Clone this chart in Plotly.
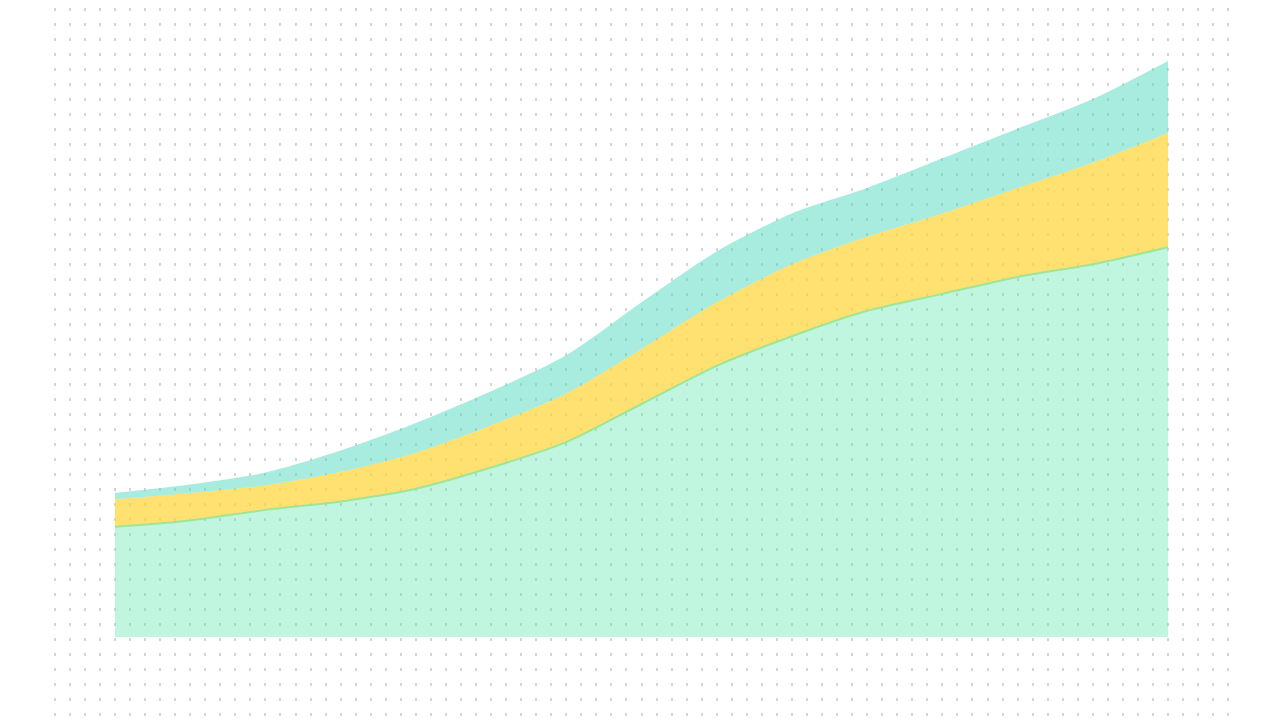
import plotly.graph_objects as go

# x positions (periods) and stacked series values
periods = list(range(15))
base_vals = [26, 27.5, 30, 32, 35, 40, 46, 55, 64, 71, 77, 81, 85, 88, 92]
mid_vals = [6.5, 6.5, 5.8, 7, 8.5, 10, 11.5, 13, 15, 17, 17.5, 19, 21, 24, 27]
top_vals = [1.5, 2, 3, 5, 7, 8, 9, 11, 12, 12, 11.5, 13, 14, 15, 17]

series = [
    ("Base", base_vals, "rgba(98,233,178,0.40)", "rgba(150,228,150,0.9)", 2),
    ("Middle", mid_vals, "rgba(255,214,60,0.72)", "rgba(255,214,60,0)", 0),
    ("Top", top_vals, "rgba(80,218,190,0.50)", "rgba(80,218,190,0)", 0),
]

fig = go.Figure()
for name, vals, color, line_color, line_w in series:
    fig.add_trace(
        go.Scatter(
            x=periods,
            y=vals,
            name=name,
            mode="lines",
            stackgroup="one",
            line=dict(width=line_w, color=line_color, shape="spline", smoothing=0.8),
            fillcolor=color,
        )
    )

fig.update_layout(
    width=1280,
    height=720,
    margin=dict(l=42, r=50, t=0, b=0),
    paper_bgcolor="white",
    plot_bgcolor="white",
    showlegend=False,
)
fig.update_xaxes(
    range=[-0.864, 14.93],
    dtick=0.2,
    tick0=0,
    showticklabels=False,
    showgrid=True,
    gridcolor="#d4d4d4",
    gridwidth=2,
    griddash="3px,12px",
    zeroline=False,
    showline=False,
)
fig.update_yaxes(
    range=[-21.5, 148.5],
    showticklabels=False,
    showgrid=False,
    zeroline=False,
    showline=False,
)

fig.write_html("out.html")
